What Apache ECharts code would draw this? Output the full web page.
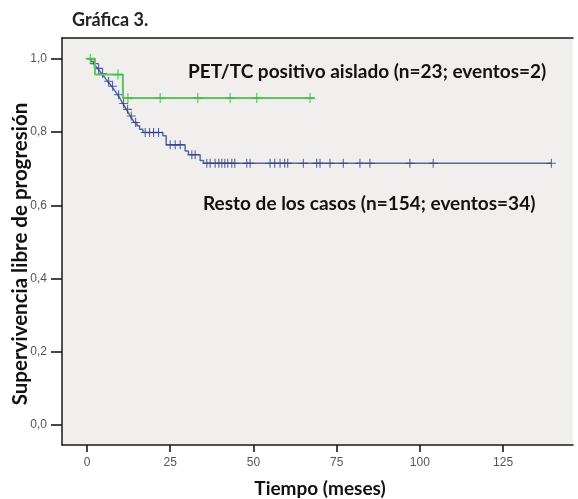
<!DOCTYPE html>
<html>
<head>
<meta charset="utf-8">
<script src="https://cdn.jsdelivr.net/npm/echarts@6/dist/echarts.min.js"></script>
<style>
html,body{margin:0;padding:0;background:#fff;}
#c{width:578px;height:499px;}
</style>
</head>
<body>
<div id="c"></div>
<script>
// ---- data ----
const xTicks = [0, 25, 50, 75, 100, 125];
const yTicks = [0, 0.2, 0.4, 0.6, 0.8, 1.0];

// Kaplan-Meier steps [time, survival] - rest of cases
const restoSteps = [
  [0, 1.0], [1.2, 0.993], [2.0, 0.987], [2.6, 0.98], [3.2, 0.974], [3.8, 0.967],
  [4.4, 0.96], [5.0, 0.953], [5.6, 0.946], [6.2, 0.939], [6.8, 0.932], [7.4, 0.925],
  [8.0, 0.918], [8.6, 0.91], [9.2, 0.902], [9.8, 0.894], [10.3, 0.886], [10.8, 0.878],
  [11.3, 0.87], [11.8, 0.862], [12.4, 0.853], [13.0, 0.844], [13.6, 0.835], [14.2, 0.826],
  [15.0, 0.817], [15.8, 0.808], [16.8, 0.799], [22.8, 0.79], [23.8, 0.765],
  [29.5, 0.748], [30.5, 0.738], [34.0, 0.722], [35.0, 0.715], [139.5, 0.715]
];
const restoCensored = [
  2.2, 3.5, 4.7, 6.5, 7.7, 9.5, 11.0, 12.2, 13.3, 14.6, 17.5, 18.8, 20.0, 21.5,
  25.0, 26.5, 28.0, 31.5, 32.5, 36.0, 37.0, 38.5, 39.6, 40.5, 41.4, 42.3, 43.5,
  44.4, 48.0, 49.0, 55.0, 56.4, 58.0, 59.4, 60.3, 65.0, 69.0, 70.0, 73.0, 77.0,
  82.0, 85.0, 97.0, 104.0, 139.5
];

// PET/TC positivo aislado
const petSteps = [[0, 1.0], [2.4, 0.957], [10.8, 0.893], [68.5, 0.893]];
const petCensored = [1.0, 9.3, 12.3, 22.0, 33.3, 43.0, 51.0, 67.0];

const chartTitle = 'Gráfica 3.';
const xTitle = 'Tiempo (meses)';
const yTitle = 'Supervivencia libre de progresión';
const petLabel = 'PET/TC positivo aislado (n=23; eventos=2)';
const restoLabel = 'Resto de los casos (n=154; eventos=34)';

// survival at a censoring time
function survAt(steps, t) {
  let s = steps[0][1];
  for (const p of steps) { if (p[0] <= t) s = p[1]; }
  return s;
}

const plus = 'path://M-0.6,-5H0.6V-0.6H5V0.6H0.6V5H-0.6V0.6H-5V-0.6H-0.6Z';
const fmt = v => v.toFixed(1).replace('.', ',');
const XMIN = -7.5, XMAX = 146, YMIN = -0.055, YMAX = 1.057;

const chart = echarts.init(document.getElementById('c'), null, {renderer: 'canvas'});
chart.setOption({
  animation: false,
  backgroundColor: '#ffffff',
  grid: {left: 62, top: 38, right: 5, bottom: 54, show: true, backgroundColor: '#f0efee', borderWidth: 0},
  xAxis: [{
    type: 'value', min: XMIN, max: XMAX,
    axisLine: {show: true, onZero: false, lineStyle: {color: '#1a1a1a', width: 1.5}},
    axisTick: {show: true, length: 7, customValues: xTicks, lineStyle: {color: '#1a1a1a', width: 1.6}},
    axisLabel: {customValues: xTicks, color: '#555', fontFamily: 'Liberation Sans', fontSize: 12, margin: 12},
    splitLine: {show: false}
  }, {
    type: 'value', position: 'top', min: XMIN, max: XMAX,
    axisLine: {show: true, onZero: false, lineStyle: {color: '#1a1a1a', width: 1.5}},
    axisTick: {show: false}, axisLabel: {show: false}, splitLine: {show: false}
  }],
  yAxis: {
    type: 'value', min: YMIN, max: YMAX,
    axisLine: {show: true, onZero: false, lineStyle: {color: '#1a1a1a', width: 1.5}},
    axisTick: {show: true, length: 11, customValues: yTicks, lineStyle: {color: '#1a1a1a', width: 1.6}},
    axisLabel: {customValues: yTicks, formatter: fmt, color: '#555', fontFamily: 'Liberation Sans', fontSize: 12, margin: 15},
    splitLine: {show: false}
  },
  series: [
    {
      type: 'line', step: 'end', data: restoSteps, symbol: 'none',
      lineStyle: {color: '#5767a6', width: 1.5}, z: 2
    },
    {
      type: 'scatter', data: restoCensored.map(t => [t, survAt(restoSteps, t)]),
      symbol: plus, symbolSize: 9, itemStyle: {color: '#2e3f8a'}, z: 3
    },
    {
      type: 'line', step: 'end', data: petSteps, symbol: 'none',
      lineStyle: {color: '#5cc85c', width: 2}, z: 4
    },
    {
      type: 'scatter', data: petCensored.map(t => [t, survAt(petSteps, t)]),
      symbol: plus, symbolSize: 10, itemStyle: {color: '#3dbb45'}, z: 5
    }
  ],
  graphic: [
    {type: 'text', x: 72, y: 20, style: {text: chartTitle, font: 'bold 18px Lato', fill: '#222', verticalAlign: 'middle'}},
    {type: 'text', x: 188, y: 72, style: {text: petLabel, font: 'bold 19px Lato', fill: '#111', verticalAlign: 'middle'}},
    {type: 'text', x: 203, y: 204, style: {text: restoLabel, font: 'bold 19px Lato', fill: '#111', verticalAlign: 'middle'}},
    {type: 'text', x: 320, y: 489, style: {text: xTitle, font: 'bold 19px Lato', fill: '#111', align: 'center', verticalAlign: 'middle'}},
    {type: 'text', x: 20, y: 254, rotation: Math.PI / 2, style: {text: yTitle, font: 'bold 20.5px Lato', fill: '#111', align: 'center', verticalAlign: 'middle'}}
  ]
});
</script>
</body>
</html>
